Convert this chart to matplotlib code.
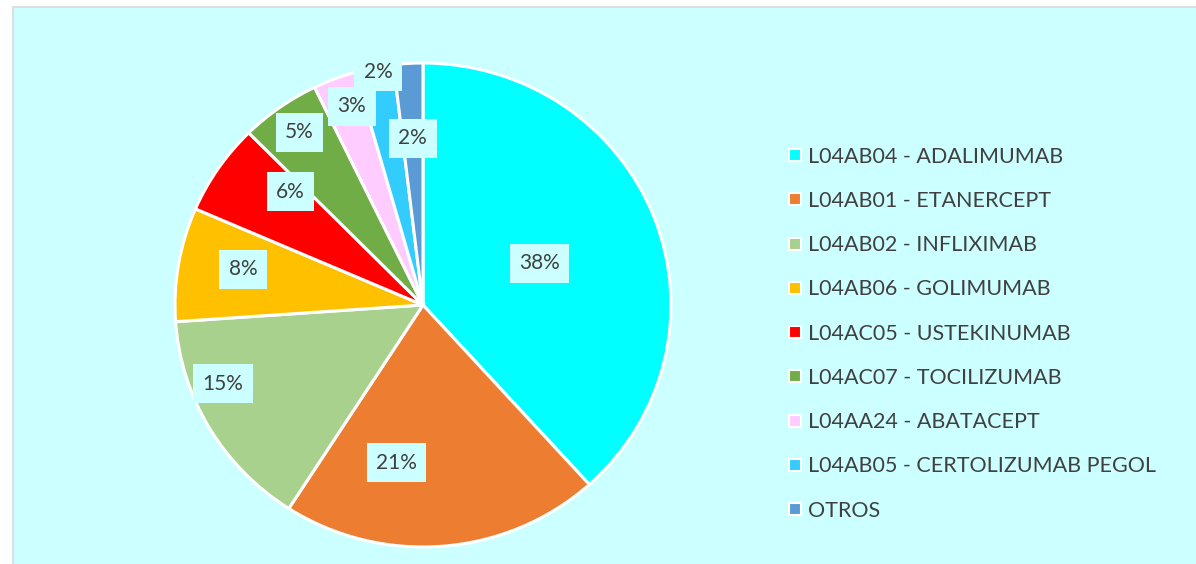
import matplotlib.pyplot as plt
import numpy as np
from matplotlib.lines import Line2D
from matplotlib.patches import Rectangle

# shares (percent)
labels = ["L04AB04 - ADALIMUMAB", "L04AB01 - ETANERCEPT", "L04AB02 - INFLIXIMAB",
          "L04AB06 - GOLIMUMAB", "L04AC05 - USTEKINUMAB", "L04AC07 - TOCILIZUMAB",
          "L04AA24 - ABATACEPT", "L04AB05 - CERTOLIZUMAB PEGOL", "OTROS"]
shares = [38.3, 20.8, 14.8, 7.6, 6.1, 5.2, 2.8, 2.5, 1.9]
colors = ["#00FFFF", "#ED7D31", "#A9D18E", "#FFC000", "#FF0000",
          "#70AD47", "#FFCCFF", "#33CCFF", "#5B9BD5"]

# label placement (radius fraction, angle shift in degrees) like Excel's best fit
lab_r = [0.50, 0.66, 0.87, 0.74, 0.71, 0.87, 0.87, 0.98, 0.69]
lab_shift = [-1, -14, -8.6, -1.8, -6.8, -0.4, -1.6, -0.7, 0]

bg = "#CCFFFF"
txt = "#404040"
plt.rcParams['font.family'] = ['Lato', 'DejaVu Sans']

W, H = 1196, 564
fig = plt.figure(figsize=(W / 100, H / 100), dpi=100)
fig.patch.set_facecolor("white")
fig.patches.append(Rectangle((13 / W, -0.1), 1.2, (H - 7) / H + 0.1, transform=fig.transFigure,
                             facecolor=bg, edgecolor="#D9D9D9", linewidth=1.2, zorder=-1))

cx, cy, rx, ry = 423, 305, 248, 242
ax = fig.add_axes([(cx - rx) / W, (H - cy - ry) / H, 2 * rx / W, 2 * ry / H])
wedges, _ = ax.pie(shares, colors=colors, startangle=90, counterclock=False,
                   radius=1.0, wedgeprops=dict(edgecolor="white", linewidth=2.2))
ax.set_aspect("auto")
ax.set_xlim(-1, 1)
ax.set_ylim(-1, 1)
ax.axis("off")

for w, v, r, s in zip(wedges, shares, lab_r, lab_shift):
    ang = np.deg2rad((w.theta1 + w.theta2) / 2 + s)
    ax.text(r * np.cos(ang), r * np.sin(ang), "%d%%" % round(v), ha="center", va="center",
            fontsize=15, color=txt,
            bbox=dict(boxstyle="square,pad=0.45", facecolor=bg, edgecolor="none"))

handles = [Line2D([], [], linestyle="none", marker="s", markersize=8,
                  markerfacecolor=c, markeredgecolor="white", markeredgewidth=1.5)
           for c in colors]
fig.legend(handles, labels, loc="upper left", bbox_to_anchor=(776 / W, 1 - 136 / H),
           frameon=False, fontsize=15.5, labelcolor=txt, handlelength=0.8,
           handletextpad=0.2, labelspacing=1.125, borderpad=0)

fig.savefig("out.png", dpi=100, facecolor="white")
